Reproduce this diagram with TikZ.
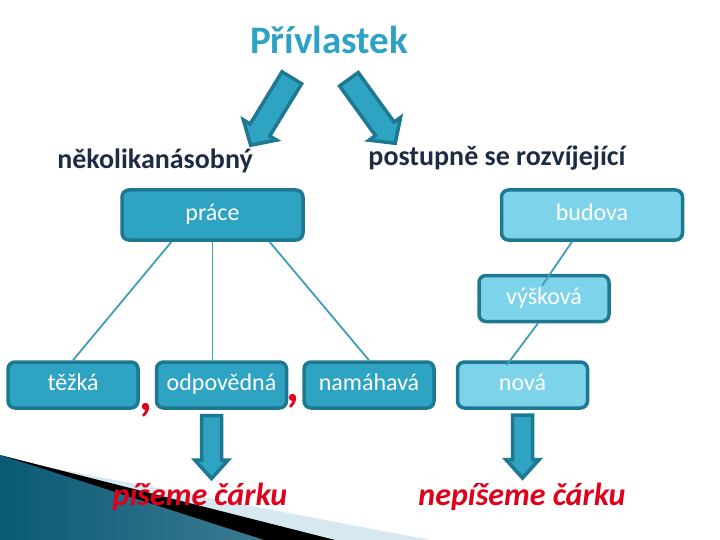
\documentclass[tikz,border=0pt]{standalone}
\usepackage{fontspec}
\setmainfont{Carlito}
\usetikzlibrary{shapes.arrows, positioning}
\definecolor{boxmid}{RGB}{47,163,194}
\definecolor{boxlight}{RGB}{125,212,234}
\definecolor{boxedge}{RGB}{30,120,145}
\definecolor{linkteal}{RGB}{62,158,183}
\definecolor{titleteal}{RGB}{46,162,196}
\definecolor{subnavy}{RGB}{29,43,69}
\definecolor{markred}{RGB}{224,0,27}
\definecolor{wedgedark}{RGB}{10,90,117}
\definecolor{wedgelight}{RGB}{80,176,208}
\definecolor{bandgray}{RGB}{214,233,240}

\begin{document}
\begin{tikzpicture}[x=1pt, y=-1pt,
  box/.style={rectangle, rounded corners=7pt, draw=boxedge, line width=3.5pt,
              text=white, font=\fontsize{24}{28}\selectfont, inner sep=0pt,
              text height=15pt, text depth=4pt},
  darkbox/.style={box, fill=boxmid},
  lightbox/.style={box, fill=boxlight},
  wide/.style={minimum width=181pt, minimum height=50pt},
  narrow/.style={minimum width=130pt, minimum height=46pt},
  link/.style={draw=linkteal, line width=1.8pt},
  bigarrow/.style={single arrow, draw=boxedge, fill=boxmid, line width=3.5pt,
                   inner sep=9.75pt, single arrow head extend=8pt,
                   single arrow tip angle=95, minimum height=79pt},
  downarrow/.style={bigarrow, inner sep=8.25pt, single arrow head extend=6.5pt,
                    single arrow tip angle=84, minimum height=63pt, rotate=-90},
  subtitle/.style={font=\fontsize{28}{32}\selectfont\bfseries, text=subnavy},
  comma/.style={font=\fontsize{50}{54}\selectfont\bfseries, text=markred, inner sep=0pt},
  result/.style={font=\fontsize{32}{36}\selectfont\bfseries\itshape, text=markred}
]
\useasboundingbox (0,0) rectangle (720,540);

% corner decoration
\fill[bandgray] (0,458) -- (430,540) -- (0,540) -- cycle;
\fill[black] (0,455) -- (335,540) -- (0,540) -- cycle;
\shade[left color=wedgedark, middle color=wedgelight, right color=wedgedark!80]
  (0,455) -- (264,540) -- (0,540) -- cycle;

% Title and the two kinds
\node[font=\fontsize{39}{44}\selectfont\bfseries, text=titleteal] (title) at (329,40) {Přívlastek};
\node[bigarrow, rotate=-121.4] (leftarrow) at (274,107) {};
\node[bigarrow, rotate=-54.1] (rightarrow) at (369,107) {};
\node[subtitle] (multi) at (155,161) {několikanásobný};
\node[subtitle] (gradual) at (497,158) {postupně se rozvíjející};

% Upper boxes
\node[darkbox, wide] (prace) at (212.5,215) {práce};
\node[lightbox, wide, right=195pt of prace] (budova) {budova};
\node[lightbox, narrow] (vyskova) at (544,298.5) {výšková};

% Lower row
\node[darkbox, narrow] (tezka) at (73,385) {těžká};
\node[darkbox, narrow, right=15pt of tezka] (odpovedna) {odpovědná};
\node[darkbox, narrow, right=14pt of odpovedna] (namahava) {namáhavá};
\node[lightbox, narrow, right=20pt of namahava] (nova) {nová};

% Commas
\node[comma] (comma1) at (146,410) {,};
\node[comma] (comma2) at (293,401) {,};

% Links
\draw[link] ([xshift=-41pt]prace.south) -- (tezka.north);
\draw[link] (prace.south) -- (prace.south |- odpovedna.north);
\draw[link] ([xshift=57pt]prace.south) -- (namahava.north);
\draw[link] ([xshift=-20pt]budova.south) -- ([xshift=-2pt, yshift=-12pt]vyskova.north);
\draw[link] ([xshift=-6pt]vyskova.south) -- ([xshift=-16pt, yshift=-5pt]nova.north);

% Results
\node[downarrow] (arrowL) at (211.5,441.5) {};
\node[downarrow] (arrowR) at (522.5,441) {};
\node[result] (withcomma) at (200,497) {píšeme čárku};
\node[result] (nocomma) at (522,497) {nepíšeme čárku};

\end{tikzpicture}
\end{document}
